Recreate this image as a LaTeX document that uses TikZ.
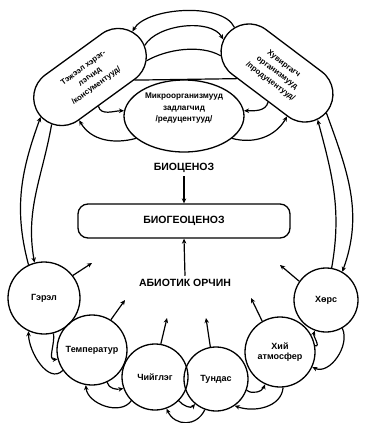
\documentclass[tikz,border=0pt]{standalone}
\usepackage{fontspec}
\setmainfont{Liberation Sans}
\usetikzlibrary{shapes.misc,shapes.geometric,arrows.meta}

\begin{document}
\begin{tikzpicture}[x=1pt,y=1pt,
  ln/.style={line width=1.2pt},
  arr/.style={ln,-{Stealth[length=5pt,width=4.5pt]}},
  fac/.style={circle,draw,line width=1.3pt,inner sep=0pt,align=center,
              font=\bfseries\fontsize{9}{10.5}\selectfont},
  capsule/.style={rounded rectangle,draw,line width=1.3pt,minimum width=128pt,
              minimum height=56pt,inner sep=1pt,align=center,
              font=\bfseries\fontsize{7.8}{11}\selectfont},
  lbl/.style={font=\bfseries\fontsize{10.5}{12}\selectfont}]

\useasboundingbox (0,-423) rectangle (366,0);
\fill[white] (0,-423) rectangle (366,0);

% biotic components
\node[capsule,rotate=36]  (tl) at (90,-77)  {Тэжээл хэрэг-\\лэгчид\\/консументууд/};
\node[capsule,rotate=-37] (tr) at (277,-73) {Хувиргагч\\организмууд\\/продуцентууд/};
\node[ellipse,draw,line width=1.3pt,minimum width=120pt,minimum height=72pt] (ov) at (184,-116) {};
\node[align=center,font=\bfseries\fontsize{8.2}{11.5}\selectfont] (ovt) at (184,-108.5)
  {Микроорганизмууд\\задлагчид\\/редуцентууд/};
\draw[ln] (tl.-40) -- (tr.225);

% links between the biotic components
\draw[arr] (tr.170) to[out=115,in=60,looseness=0.7] (tl.11);
\draw[arr] (tl.-6) to[out=60,in=120,looseness=0.8] (tr.185);
\draw[ln]  (tl.-20) to[out=30,in=150,looseness=0.8] (tr.200);
\draw[arr] (tl.-110) to[out=-75,in=180] (ov.175);
\draw[arr] (ov.205) to[out=195,in=-60] (tl.-140);
\draw[arr] (tr.-70) to[out=-105,in=0] (ov.5);
\draw[arr] (ov.-25) to[out=-15,in=-120] (tr.-40);

% community and ecosystem
\node[lbl] (bc) at (184,-168) {БИОЦЕНОЗ};
\node[lbl,draw,line width=1.3pt,rounded corners=10pt,minimum width=212pt,minimum height=34pt] (bg) at (184,-221) {БИОГЕОЦЕНОЗ};
\node[lbl] (ab) at (185,-283) {АБИОТИК ОРЧИН};
\draw[arr] (bc.south) -- (bg.north);
\draw[arr] (ab.north) -- (bg.south);

% abiotic factors
\node[fac,minimum size=72pt] (g) at (44,-298)  {Гэрэл};
\node[fac,minimum size=70pt] (t) at (92,-350)  {Температур};
\node[fac,minimum size=66pt] (n) at (155,-377) {Чийглэг};
\node[fac,minimum size=64pt] (u) at (216,-379) {Тундас};
\node[fac,minimum size=70pt] (a) at (280,-352) {Хий\\атмосфер};
\node[fac,minimum size=64pt] (k) at (326,-300) {Хөрс};

% arrow tips towards the abiotic environment
\coordinate (gA) at (92,-263);
\coordinate (tA) at (125,-300);
\coordinate (nA) at (167,-318);
\coordinate (uA) at (206,-318);
\coordinate (aA) at (251,-298);
\coordinate (kA) at (280,-265);
\draw[arr] (g.38)  -- (gA);
\draw[arr] (t.58)  -- (tA);
\draw[arr] (n.80)  -- (nA);
\draw[arr] (u.100) -- (uA);
\draw[arr] (a.120) -- (aA);
\draw[arr] (k.145) -- (kA);

% side links between factors and consumers / producers
\draw[arr] (g.115) to[out=105,in=-110] (tl.183);
\draw[arr] (tl.195) to[out=-100,in=100] (g.105);
\draw[arr] (tr.-2) to[out=-70,in=70] (k.60);
\draw[arr] (k.80) to[out=80,in=-75] (tr.-12);

% links between neighbouring factors
\draw[arr] (t.215) to[out=225,in=-90] (g.245);
\draw[arr] (g.285) to[out=-80,in=185] (t.195);
\draw[arr] (n.225) to[out=235,in=-85] (t.260);
\draw[arr] (t.295) to[out=-75,in=190] (n.200);
\draw[arr] (u.250) to[out=-115,in=-65,looseness=1.3] (n.290);
\draw[arr] (n.315) to[out=-50,in=-130] (u.230);
\draw[arr] (a.275) to[out=-95,in=-20] (u.305);
\draw[arr] (u.340) to[out=-40,in=-110] (a.245);
\draw[arr] (k.300) to[out=-65,in=-25] (a.335);
\draw[arr] (a.10) to[out=-10,in=-110] (k.250);
\end{tikzpicture}
\end{document}
